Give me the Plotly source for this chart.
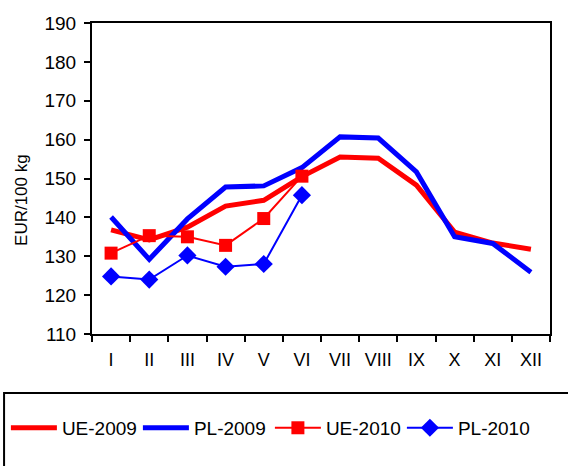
import plotly.graph_objects as go

months = ["I", "II", "III", "IV", "V", "VI", "VII", "VIII", "IX", "X", "XI", "XII"]
ue_2009 = [136.8, 134.2, 137.5, 142.9, 144.4, 150.5, 155.5, 155.2, 148.3, 136.2, 133.4, 131.8]
pl_2009 = [140.1, 129.2, 139.6, 147.8, 148.1, 152.8, 160.7, 160.4, 151.7, 135.0, 133.3, 125.9]
ue_2010 = [130.8, 135.3, 135.0, 132.8, 139.7, 150.6]
pl_2010 = [124.8, 124.0, 130.2, 127.3, 128.0, 145.7]

font = "Liberation Sans, Arial, sans-serif"

fig = go.Figure()
fig.add_trace(go.Scatter(x=months, y=ue_2009, name="UE-2009", mode="lines",
                         line=dict(color="#ff0000", width=5)))
fig.add_trace(go.Scatter(x=months, y=pl_2009, name="PL-2009", mode="lines",
                         line=dict(color="#0000ff", width=5)))
fig.add_trace(go.Scatter(x=months[:len(ue_2010)], y=ue_2010, name="UE-2010", mode="lines+markers",
                         line=dict(color="#ff0000", width=2),
                         marker=dict(symbol="square", size=13, color="#ff0000")))
fig.add_trace(go.Scatter(x=months[:len(pl_2010)], y=pl_2010, name="PL-2010", mode="lines+markers",
                         line=dict(color="#0000ff", width=2),
                         marker=dict(symbol="diamond", size=14, color="#0000ff")))

fig.update_layout(
    width=568, height=466,
    margin=dict(l=92, r=18, t=23, b=132, autoexpand=False),
    paper_bgcolor="white", plot_bgcolor="white",
    font=dict(family=font, size=18, color="black"),
    showlegend=True,
    legend=dict(orientation="h", x=-0.188, xanchor="left", y=-0.302, yanchor="middle",
                font=dict(family=font, size=19, color="black"),
                entrywidthmode="pixels", entrywidth=71, itemwidth=46,
                bgcolor="rgba(0,0,0,0)", traceorder="normal"),
    shapes=[dict(type="rect", xref="paper", yref="paper",
                 x0=-0.192, x1=1.2, y0=-0.19, y1=-0.6,
                 line=dict(color="black", width=2), fillcolor="rgba(0,0,0,0)")],
    annotations=[dict(text="EUR/100 kg", textangle=-90, xref="paper", yref="paper",
                      x=(22 - 92) / 458, y=0.431, xanchor="center", yanchor="middle",
                      showarrow=False, font=dict(family=font, size=17, color="black"))],
)
fig.update_xaxes(type="category", range=[-0.5, 11.5], showline=True, mirror=True,
                 linecolor="black", linewidth=2, ticks="outside", tickson="boundaries",
                 ticklen=6, tickwidth=2, tickcolor="black", showgrid=False,
                 tickfont=dict(size=18), ticklabelstandoff=8, automargin=False)
fig.update_yaxes(range=[110, 190], dtick=10, showline=True, mirror=True,
                 linecolor="black", linewidth=2, ticks="outside", ticklen=6,
                 tickwidth=2, tickcolor="black", showgrid=False, zeroline=False,
                 tickfont=dict(size=19), ticklabelstandoff=4, automargin=False)

fig.write_html("out.html")
